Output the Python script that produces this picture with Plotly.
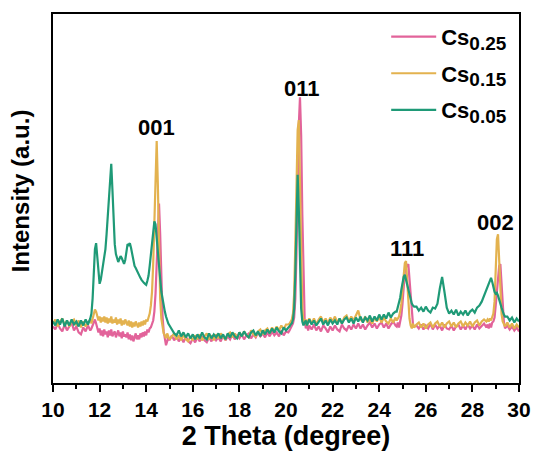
import plotly.graph_objects as go

# 2-theta sampling grid (degrees)
two_theta = [
    10.0, 10.1, 10.2, 10.3, 10.4, 10.5, 10.6, 10.7, 10.8, 10.9,
    11.0, 11.1, 11.2, 11.3, 11.4, 11.5, 11.6,
    11.65, 11.70, 11.75, 11.80, 11.85, 11.90, 11.95, 12.00, 12.05, 12.10,
    12.15, 12.20, 12.25, 12.30, 12.35, 12.40, 12.45, 12.50, 12.55, 12.60,
    12.65, 12.70, 12.75, 12.80, 12.85, 12.90, 12.95, 13.00, 13.05, 13.10,
    13.15, 13.20, 13.25, 13.30, 13.35, 13.40, 13.45, 13.50, 13.55, 13.60,
    13.65, 13.70, 13.75, 13.80, 13.85, 13.90, 13.95, 14.00, 14.05, 14.10,
    14.15, 14.20, 14.25, 14.30, 14.35, 14.40, 14.45, 14.50, 14.55, 14.60,
    14.65, 14.70, 14.75, 14.80, 14.85, 14.90, 14.95, 15.00,
    15.1, 15.2, 15.3, 15.4, 15.5, 15.6, 15.7, 15.8, 15.9, 16.0,
    16.1, 16.2, 16.3, 16.4, 16.5, 16.6, 16.7, 16.8, 16.9, 17.0,
    17.1, 17.2, 17.3, 17.4, 17.5, 17.6, 17.7, 17.8, 17.9, 18.0,
    18.1, 18.2, 18.3, 18.4, 18.5, 18.6, 18.7, 18.8, 18.9, 19.0,
    19.1, 19.2, 19.3, 19.4, 19.5, 19.6, 19.7, 19.8, 19.9, 20.0,
    20.1,
    20.15, 20.20, 20.25, 20.30, 20.35, 20.40, 20.45, 20.50, 20.55, 20.60,
    20.65, 20.70, 20.75, 20.80, 20.85, 20.90, 20.95, 21.00,
    21.1, 21.2, 21.3, 21.4, 21.5, 21.6, 21.7, 21.8, 21.9, 22.0,
    22.1, 22.2, 22.3, 22.4, 22.5, 22.6, 22.7, 22.8, 22.9, 23.0,
    23.1, 23.2, 23.3, 23.4, 23.5, 23.6, 23.7, 23.8, 23.9, 24.0,
    24.1, 24.2, 24.3, 24.4, 24.5, 24.6, 24.7,
    24.75, 24.80, 24.85, 24.90, 24.95, 25.00, 25.05, 25.10, 25.15, 25.20,
    25.25, 25.30, 25.35, 25.40, 25.45, 25.50,
    25.6, 25.7, 25.8, 25.9, 26.0, 26.1, 26.2, 26.3, 26.4, 26.5,
    26.6, 26.7, 26.8, 26.9, 27.0, 27.1, 27.2, 27.3, 27.4, 27.5,
    27.6, 27.7, 27.8, 27.9, 28.0, 28.1, 28.2, 28.3, 28.4, 28.5,
    28.6,
    28.65, 28.70, 28.75, 28.80, 28.85, 28.90, 28.95, 29.00, 29.05, 29.10,
    29.15, 29.20, 29.25, 29.30, 29.35, 29.40,
    29.5, 29.6, 29.7, 29.8, 29.9, 30.0,
]

cs025 = [
    57, 54, 60, 55, 52, 59, 53, 57, 61, 53,
    57, 51, 49, 56, 52, 58, 53,
    55, 58, 61, 64, 60, 56, 51, 55, 48, 53,
    47, 54, 49, 52, 46, 53, 48, 54, 47, 50,
    52, 46, 50, 53, 47, 51, 45, 52, 47, 49,
    46, 51, 44, 49, 43, 48, 42, 47, 50, 44,
    48, 44, 50, 46, 51, 47, 52, 48, 54, 51,
    55, 56, 60, 63, 72, 90, 120, 158, 181, 150,
    100, 68, 52, 43, 38, 42, 46, 43,
    48, 43, 47, 42, 46, 41, 47, 42, 40, 45,
    41, 46, 42, 47, 43, 41, 46, 42, 47, 43,
    46, 42, 48, 43, 47, 44, 49, 44, 48, 45,
    49, 44, 48, 50, 45, 49, 46, 51, 47, 50,
    46, 51, 47, 52, 48, 51, 47, 53, 48, 52,
    51,
    53, 55, 58, 60, 66, 85, 130, 200, 260, 288,
    250, 170, 100, 65, 55, 59, 53, 58,
    54, 59, 53, 57, 52, 58, 55, 51, 57, 53,
    58, 54, 52, 59, 55, 53, 58, 54, 59, 55,
    60, 55, 59, 54, 58, 61, 56, 60, 55, 59,
    61, 56, 60, 55, 59, 62, 58,
    57, 61, 56, 62, 68, 80, 98, 112, 119, 117,
    120, 105, 85, 68, 59, 57,
    58, 55, 59, 54, 58, 55, 60, 54, 59, 55,
    58, 53, 59, 55, 54, 58, 53, 57, 59, 54,
    58, 54, 59, 55, 58, 54, 59, 55, 58, 60,
    56,
    59, 55, 60, 56, 61, 62, 66, 78, 95, 108,
    118, 120, 100, 78, 62, 55,
    58, 54, 57, 53, 56, 52,
]

cs015 = [
    60, 64, 57, 62, 65, 58, 63, 57, 62, 64,
    58, 63, 56, 62, 57, 61, 64,
    60, 64, 70, 74, 72, 68, 63, 67, 61, 66,
    62, 67, 61, 66, 60, 65, 61, 67, 60, 64,
    61, 66, 59, 64, 60, 65, 58, 63, 59, 64,
    60, 58, 63, 57, 62, 56, 61, 57, 62, 58,
    56, 61, 57, 62, 58, 63, 59, 64, 62, 66,
    70, 78, 92, 120, 170, 225, 244, 200, 130, 85,
    65, 56, 50, 48, 45, 50, 46, 44,
    47, 50, 44, 48, 43, 49, 44, 42, 47, 43,
    48, 44, 49, 43, 47, 50, 44, 48, 43, 49,
    45, 50, 46, 44, 49, 51, 46, 50, 45, 51,
    47, 52, 48, 46, 53, 49, 47, 52, 54, 49,
    53, 55, 50, 56, 52, 57, 53, 58, 54, 59,
    59,
    60, 62, 64, 70, 90, 140, 210, 255, 265, 200,
    120, 75, 62, 61, 64, 58, 63, 65,
    60, 65, 59, 64, 67, 61, 65, 60, 66, 62,
    67, 61, 65, 60, 66, 68, 62, 67, 63, 69,
    73, 64, 62, 67, 61, 65, 60, 66, 62, 67,
    61, 66, 62, 60, 65, 61, 66,
    63, 65, 67, 72, 80, 95, 112, 121, 123, 105,
    80, 65, 58, 55, 60, 56,
    59, 61, 56, 60, 55, 59, 61, 56, 60, 62,
    57, 61, 56, 60, 62, 57, 61, 56, 60, 62,
    57, 61, 58, 62, 57, 61, 63, 58, 62, 64,
    62,
    64, 62, 65, 63, 66, 70, 82, 110, 145, 150,
    125, 88, 70, 62, 59, 57,
    61, 56, 60, 55, 59, 56,
]

cs005 = [
    62, 58, 64, 59, 65, 57, 63, 58, 64, 59,
    62, 57, 63, 58, 64, 59, 65,
    70, 85, 110, 135, 141, 125, 108, 100, 104, 112,
    118, 125, 135, 150, 168, 190, 210, 221, 195, 160,
    140, 130, 126, 122, 125, 128, 126, 122, 120, 124,
    135, 140, 139, 141, 136, 130, 124, 118, 116, 113,
    110, 108, 106, 104, 102, 101, 100, 99, 103, 108,
    118, 130, 145, 158, 163, 160, 148, 132, 118, 105,
    92, 84, 78, 72, 67, 63, 60, 58,
    54, 50, 48, 53, 47, 51, 46, 50, 45, 49,
    44, 49, 45, 51, 46, 44, 50, 45, 49, 46,
    50, 45, 49, 44, 50, 46, 51, 47, 45, 51,
    47, 52, 48, 46, 51, 53, 48, 52, 47, 53,
    49, 54, 50, 55, 51, 56, 52, 50, 56, 53,
    56,
    57, 59, 60, 64, 75, 110, 170, 210, 175, 110,
    75, 62, 58, 61, 63, 58, 62, 64,
    59, 63, 58, 62, 65, 59, 63, 58, 64, 60,
    63, 59, 65, 60, 64, 66, 61, 65, 60, 66,
    62, 67, 61, 66, 63, 68, 62, 67, 63, 69,
    64, 69, 65, 71, 66, 70, 72,
    72, 76, 80, 86, 94, 102, 107, 109, 104, 98,
    94, 88, 84, 80, 78, 77,
    77, 73, 76, 72, 77, 73, 71, 76, 75, 80,
    95, 107, 92, 76, 70, 73, 69, 74, 68, 72,
    69, 73, 68, 72, 74, 71, 76, 78, 82, 88,
    93,
    97, 100, 104, 106, 102, 96, 92, 90, 91, 88,
    85, 80, 76, 72, 69, 67,
    67, 63, 66, 61, 65, 62,
]

series_names = [
    "Cs<sub><span style='font-size:19px'>0.25</span></sub>",
    "Cs<sub><span style='font-size:19px'>0.15</span></sub>",
    "Cs<sub><span style='font-size:19px'>0.05</span></sub>",
]
series_colors = ["#E2639A", "#E3B24F", "#1F9A77"]

peak_labels = ["001", "011", "111", "002"]
peak_label_x = [14.45, 20.68, 25.18, 29.0]
peak_label_y = [258, 297, 136, 162]

for s in (cs025, cs015, cs005):
    assert len(s) == len(two_theta), (len(s), len(two_theta))

FONT = "Arial, Liberation Sans, sans-serif"

fig = go.Figure()
for i, (name, ys, col) in enumerate(zip(series_names, [cs025, cs015, cs005], series_colors)):
    fig.add_trace(go.Scatter(
        x=two_theta, y=ys, mode="lines", name=name,
        line=dict(color=col, width=2.2),
        legendgroup=f"g{i}",
    ))

for txt, px, py in zip(peak_labels, peak_label_x, peak_label_y):
    fig.add_annotation(x=px, y=py, text=txt, showarrow=False,
                       font=dict(family=FONT, size=22, color="black", weight="bold"),
                       xanchor="center", yanchor="middle")

# y-axis title as a rotated annotation for precise placement
fig.add_annotation(xref="paper", yref="paper", x=-0.071, y=0.522,
                   text="Intensity (a.u.)", textangle=-90, showarrow=False,
                   xanchor="center", yanchor="middle",
                   font=dict(family=FONT, size=24, color="black", weight="bold"))

fig.update_layout(
    width=543, height=452,
    margin=dict(l=53, r=19, t=14, b=66),
    paper_bgcolor="white", plot_bgcolor="white",
    font=dict(family=FONT, color="black"),
    showlegend=True,
    legend=dict(
        x=0.715, y=0.995, xanchor="left", yanchor="top",
        bgcolor="rgba(0,0,0,0)", borderwidth=0,
        font=dict(family=FONT, size=22, color="black", weight="bold"),
        tracegroupgap=5, itemwidth=45,
    ),
    xaxis=dict(
        range=[10, 30], dtick=2, tick0=10,
        showgrid=False, zeroline=False,
        showline=True, linecolor="black", linewidth=2, mirror=True,
        ticks="outside", ticklen=7, tickwidth=2, tickcolor="black",
        minor=dict(dtick=1, ticks="outside", ticklen=4, tickwidth=2, tickcolor="black"),
        tickfont=dict(family=FONT, size=21, color="black", weight="bold"),
        title=dict(text="2 Theta (degree)", standoff=0,
                   font=dict(family=FONT, size=27, color="black", weight="bold")),
    ),
    yaxis=dict(
        range=[0, 372],
        showgrid=False, zeroline=False, showticklabels=False, ticks="",
        showline=True, linecolor="black", linewidth=2, mirror=True,
    ),
)

fig.write_html("out.html")
